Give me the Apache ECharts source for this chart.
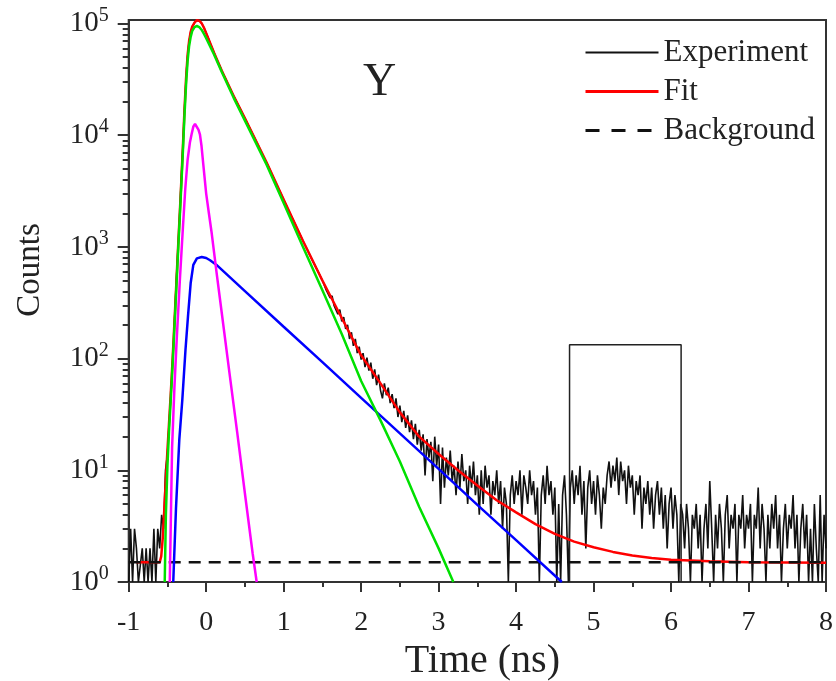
<!DOCTYPE html>
<html><head><meta charset="utf-8">
<script src="https://cdn.jsdelivr.net/npm/echarts@6/dist/echarts.min.js"></script>
<style>html,body{margin:0;padding:0;background:#fff}#c{width:836px;height:681px}</style>
</head><body><div id="c"></div>
<script>
// ---------- data ----------
const expStart = -1.0;
const expStep = 0.025;
const expCounts = [
1,3,1,3,2,1,1,2,1,2,1,2,1,3,1,3,2,4,3,10,
14,28,55,120,300,690,1450,3500,8100,20000,42000,65000,84000,95000,102000,106500,106800,104000,98000,90500,
82000,74800,67300,61000,55200,50100,45700,41700,38000,34900,32100,29400,27000,24800,22800,21100,19500,18000,16700,15400,
14200,13100,12050,11100,10250,9450,8700,8020,7400,6810,6280,5780,5320,4880,4470,4090,3750,3440,3160,2890,
2650,2430,2230,2050,1880,1730,1590,1460,1340,1230,1130,1040,960,885,815,750,693,640,590,542,
500,480,410,420,350,365,300,310,250,275,215,235,185,200,150,172,130,150,112,128,
98,112,84,102,78,92,66,80,58,72,52,44,60,47,55,40,48,36,44,30,
38,27,34,24,31,22,28,19,26,17,23,15,21,9,19,13,18,8,20,11,
17,5,16,7,13,9,15,8,11,6,12,7,14,8,10,5,11,7,12,6,
9,4,10,5,11,7,9,4,8,6,10,5,8,3,7,5,1,6,9,5,
8,6,10,4,9,7,5,10,6,8,4,7,1,6,9,5,11,6,8,4,
7,1,5,1,6,9,4,1,7,10,5,9,6,11,4,8,2,7,10,5,
8,4,9,6,3,7,5,9,12,7,11,8,13,6,12,8,10,5,11,7,
9,4,8,6,9,3,7,5,8,4,7,3,6,8,4,7,3,6,2,5,
7,3,6,4,1,5,4,2,5,3,1,4,3,5,2,4,1,3,5,2,
8,3,1,4,2,5,3,1,4,6,2,4,3,5,1,4,3,6,2,4,
3,5,1,4,3,7,2,5,3,1,4,2,5,3,6,2,4,1,3,5,
2,4,3,6,2,4,1,3,5,2,4,1,3,1,5,2,1,6,1,4,
2
];
const fitCurve = [
[-0.9,1.5],[-0.6,1.5],[-0.58,1.7],[-0.56,2.5],[-0.54,4.5],[-0.52,8.5],[-0.50,15],[-0.48,26],[-0.46,45],[-0.44,80],
[-0.42,150],[-0.40,290],[-0.38,560],[-0.36,1080],[-0.34,2050],[-0.32,4000],[-0.30,8000],[-0.28,17000],[-0.26,32000],[-0.24,52000],
[-0.22,70000],[-0.20,84000],[-0.18,94000],[-0.15,102000],[-0.12,107000],[-0.09,106000],[-0.06,101000],[-0.03,92000],[0,82000],[0.1,55000],
[0.2,38000],[0.355,22400],[0.5,14200],[0.78,5700],[1.0,2650],[1.25,1130],[1.5,500],[1.75,231],[2.0,107],[2.25,60],
[2.5,33],[2.75,20],[3.0,14],[3.25,10],[3.5,7.3],[3.75,5.4],[4.0,4.2],[4.25,3.3],[4.5,2.7],[4.75,2.3],
[5.0,2.05],[5.25,1.86],[5.5,1.73],[5.75,1.64],[6.0,1.58],[6.5,1.53],[7.0,1.5],[8.0,1.49]
];
const backgroundLevel = 1.5;
const backgroundRange = [-1, 8];
const greenComponent = [
[-0.535,1],[-0.52,4],[-0.50,11],[-0.48,22],[-0.46,40],[-0.44,72],[-0.42,135],[-0.40,260],[-0.38,510],[-0.36,990],
[-0.34,1900],[-0.32,3700],[-0.30,7300],[-0.28,15000],[-0.26,28000],[-0.24,46000],[-0.22,63000],[-0.20,76000],[-0.18,86000],[-0.15,93000],
[-0.12,95000],[-0.09,93000],[-0.06,88000],[-0.03,81000],[0,74000],[0.1,53000],[0.2,37000],[0.355,21600],[0.5,13500],[0.78,5450],
[1.0,2470],[1.25,1000],[1.5,409],[1.75,166],[2.0,63],[2.25,28],[2.5,12],[2.75,4.7],[3.0,2.0],[3.19,1]
];
const blueComponent = [
[-0.425,1],[-0.39,4.5],[-0.347,18.7],[-0.308,42.7],[-0.267,120],[-0.235,238],[-0.20,475],[-0.166,690],[-0.12,790],[-0.058,812],
[0.0,795],[0.05,760],[0.13,693],[0.5,402],[1.0,193],[1.5,93],[2.0,44.5],[2.5,21.4],[3.0,10.3],[3.5,4.9],
[4.0,2.37],[4.59,1]
];
const magentaComponent = [
[-0.47,1],[-0.44,16],[-0.41,55],[-0.38,150],[-0.34,500],[-0.30,1500],[-0.27,3300],[-0.24,6000],[-0.21,8600],[-0.187,10300],
[-0.165,12000],[-0.144,12600],[-0.12,12100],[-0.10,11200],[-0.08,10100],[-0.06,8000],[-0.037,5450],[0.0,3000],[0.035,2000],[0.071,1331],
[0.135,583],[0.2,260],[0.3,75],[0.4,22],[0.5,6.2],[0.6,1.8],[0.652,1]
];
const boxLeft = 4.69, boxRight = 6.13, boxTop = 133, boxBottom = 1;
const xMin = -1, xMax = 8, xInterval = 1;
const yMin = 1, yMax = 107500;
const yMajorTicks = [1,10,100,1000,10000,100000];
const yMinorTicks = [2,3,4,5,6,7,8,9,20,30,40,50,60,70,80,90,200,300,400,500,600,700,800,900,
  2000,3000,4000,5000,6000,7000,8000,9000,20000,30000,40000,50000,60000,70000,80000,90000];
const legendNames = ['Experiment','Fit','Background'];
const panelLabel = 'Y';

// ---------- chart ----------
const F = "'Liberation Serif','Times New Roman',serif";
const TXT = '#222';
const AX = '#333';
const expData = expCounts.map((c, i) => [Math.round((expStart + i * expStep) * 1000) / 1000, c]);
const bgData = [[backgroundRange[0], backgroundLevel], [backgroundRange[1], backgroundLevel]];
const boxData = [[boxLeft, boxBottom], [boxLeft, boxTop], [boxRight, boxTop], [boxRight, boxBottom]];

const chart = echarts.init(document.getElementById('c'), null, {renderer: 'canvas'});
const lineSeries = (name, data, color, width, extra) => Object.assign({
  name, type: 'line', data, symbol: 'none', showSymbol: false, smooth: false,
  lineStyle: {color, width}, itemStyle: {color}, silent: true, xAxisIndex: 0, yAxisIndex: 0
}, extra || {});

chart.setOption({
  animation: false,
  backgroundColor: '#fff',
  title: {
    text: panelLabel, left: 358, top: 55,
    textStyle: {fontFamily: F, fontSize: 46, fontWeight: 'normal', color: TXT}
  },
  legend: {
    data: [
      {name: legendNames[0], lineStyle: {width: 2, color: '#111'}},
      {name: legendNames[1], lineStyle: {width: 3, color: '#ff0000'}},
      {name: legendNames[2], lineStyle: {width: 3, color: '#111', type: [14, 12]}}
    ],
    orient: 'vertical', left: 579, top: 32,
    itemWidth: 73, itemHeight: 14, itemGap: 8,
    itemStyle: {opacity: 0},
    textStyle: {fontFamily: F, fontSize: 31, color: TXT}
  },
  grid: {left: 128.7, right: 10, top: 20, bottom: 99, show: true, borderColor: AX, borderWidth: 2,
    backgroundColor: 'transparent', containLabel: false, outerBoundsMode: 'none'},
  xAxis: {
    type: 'value', min: xMin, max: xMax, interval: xInterval,
    name: 'Time (ns)', nameLocation: 'middle', nameGap: 54,
    nameTextStyle: {fontFamily: F, fontSize: 40, color: TXT, padding: [0, 0, 0, 10]},
    axisLine: {show: true, onZero: false, lineStyle: {color: AX, width: 2}},
    axisTick: {show: true, inside: false, length: 10, lineStyle: {color: AX, width: 2}},
    minorTick: {show: true, splitNumber: 2, length: 5, lineStyle: {color: AX, width: 2}},
    axisLabel: {fontFamily: F, fontSize: 28, color: TXT, margin: 27},
    splitLine: {show: false}, minorSplitLine: {show: false}
  },
  yAxis: [{
    type: 'log', logBase: 10, min: yMin, max: yMax,
    name: 'Counts', nameLocation: 'middle', nameGap: 82,
    nameTextStyle: {fontFamily: F, fontSize: 33, color: TXT, padding: [0, 0, 0, 62]},
    axisLine: {show: true, onZero: false, lineStyle: {color: AX, width: 2}},
    axisTick: {show: true, inside: false, length: 11, lineStyle: {color: AX, width: 2}, customValues: yMajorTicks},
    axisLabel: {
      customValues: yMajorTicks, margin: 20, color: TXT,
      formatter: v => '{b|10}{s|' + Math.round(Math.log10(v)) + '}',
      rich: {
        b: {fontFamily: F, fontSize: 29, color: TXT, lineHeight: 36},
        s: {fontFamily: F, fontSize: 20, color: TXT, lineHeight: 20, verticalAlign: 'top'}
      }
    },
    splitLine: {show: false}
  }, {
    type: 'log', logBase: 10, min: yMin, max: yMax, position: 'left', offset: 0,
    axisLine: {show: false, onZero: false},
    axisTick: {show: true, inside: false, length: 6, lineStyle: {color: AX, width: 2}, customValues: yMinorTicks},
    axisLabel: {show: false},
    splitLine: {show: false}
  }],
  series: [
    lineSeries('Experiment', expData, '#111', 1.6),
    lineSeries('Box', boxData, '#222', 1.5),
    lineSeries('Fit', fitCurve, '#ff0000', 2.5),
    lineSeries('Background', bgData, '#111', 2.5, {lineStyle: {color: '#111', width: 2.5, type: [12, 8]}}),
    lineSeries('Blue component', blueComponent, '#0000ff', 2.5),
    lineSeries('Green component', greenComponent, '#00e000', 2.5),
    lineSeries('Magenta component', magentaComponent, '#ff00ff', 2.5)
  ]
});
</script></body></html>
